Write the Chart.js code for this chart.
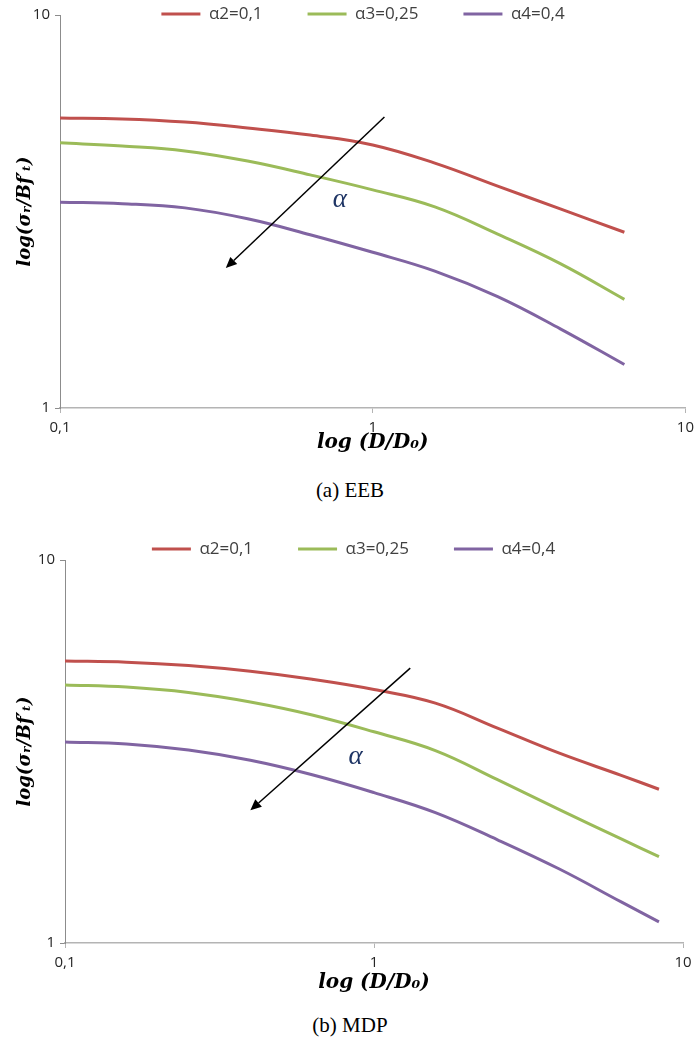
<!DOCTYPE html>
<html><head><meta charset="utf-8">
<script src="https://cdn.jsdelivr.net/npm/chart.js@4.4.1/dist/chart.umd.min.js"></script>
<style>
html,body{margin:0;padding:0;background:#fff;}
body{width:700px;height:1045px;position:relative;overflow:hidden;}
.wrap{position:absolute;left:0;width:700px;}
.cap{position:absolute;left:0;width:700px;text-align:center;font-family:"Liberation Serif","Times New Roman",serif;font-size:21px;line-height:24px;color:#000;}
</style></head><body>
<div class="wrap" style="top:0;height:455px"><canvas id="cA"></canvas></div>
<div class="cap" style="top:478px">(a) EEB</div>
<div class="wrap" style="top:535px;height:460px"><canvas id="cB"></canvas></div>
<div class="cap" style="top:1013px">(b) MDP</div>
<script>
// ---- data ----
const SERIES_LABELS = ['α2=0,1', 'α3=0,25', 'α4=0,4'];
const X_TICKS = [0.1, 1, 10];
const X_TICK_LABELS = ['0,1', '1', '10'];
const Y_TICKS = [1, 10];
const Y_TICK_LABELS = ['1', '10'];

// (a) EEB
const D_A = [0.1, 0.158, 0.251, 0.398, 0.631, 1.0, 1.58, 2.51, 3.98, 6.38];
const RED_A = [5.47, 5.44, 5.34, 5.16, 4.95, 4.67, 4.20, 3.67, 3.21, 2.80];
const GREEN_A = [4.73, 4.64, 4.51, 4.25, 3.92, 3.59, 3.25, 2.77, 2.33, 1.89];
const PURPLE_A = [3.34, 3.31, 3.23, 3.03, 2.76, 2.49, 2.23, 1.92, 1.59, 1.29];

// (b) MDP
const D_B = [0.1, 0.158, 0.251, 0.398, 0.631, 1.0, 1.58, 2.51, 3.98, 6.31, 8.36];
const RED_B = [5.45, 5.41, 5.30, 5.12, 4.88, 4.59, 4.23, 3.64, 3.13, 2.74, 2.52];
const GREEN_B = [4.72, 4.66, 4.51, 4.26, 3.94, 3.56, 3.18, 2.67, 2.23, 1.87, 1.68];
const PURPLE_B = [3.35, 3.31, 3.19, 3.00, 2.75, 2.47, 2.19, 1.86, 1.56, 1.28, 1.135];

// annotation (arrow from -> to, alpha label) in data coordinates
const ARROW_A = [[1.09, 5.50], [0.339, 2.27]];
const ALPHA_A = [0.785, 3.38];
const ARROW_B = [[1.31, 5.22], [0.398, 2.22]];
const ALPHA_B = [0.871, 3.06];

const COLORS = ['#C0504D', '#9BBB59', '#8064A2'];
const X_TITLE = 'log (D/D\u2080)';
const Y_TITLE = 'log(\u03C3\u1D63/Bf\u2032\u209C)';

const LEGEND_FONT = 17;
const LEGEND_GAP = 45;

function build(id, o) {
  const datasets = o.series.map((ys, i) => ({
    label: SERIES_LABELS[i],
    data: o.x.map((x, j) => ({x: x, y: ys[j]})),
    borderColor: COLORS[i],
    backgroundColor: COLORS[i],
    borderWidth: 3,
    pointRadius: 0,
    pointHoverRadius: 0,
    tension: 0.4,
    fill: false
  }));
  const helper = {
    id: 'helper_' + id,
    beforeLayout(chart) {
      const lg = chart.legend;
      if (lg && !lg._patched) {
        const f = lg.fit;
        lg.fit = function () { f.call(this); this.height = o.legendH; };
        lg._patched = true;
      }
    },
    afterLayout(chart) {
      const lg = chart.legend;
      if (lg) {
        lg.left += 2 * o.legendShift;
        lg.top = o.legendY - LEGEND_GAP - LEGEND_FONT / 2;
        lg.bottom = o.legendY + 20;
      }
    },
    afterDatasetsDraw(chart) {
      const ctx = chart.ctx, xs = chart.scales.x, ys = chart.scales.y;
      const x0 = xs.getPixelForValue(o.arrow[0][0]), y0 = ys.getPixelForValue(o.arrow[0][1]);
      const x1 = xs.getPixelForValue(o.arrow[1][0]), y1 = ys.getPixelForValue(o.arrow[1][1]);
      const ang = Math.atan2(y1 - y0, x1 - x0);
      const hl = 11, hw = 5;
      const bx = x1 - hl * Math.cos(ang), by = y1 - hl * Math.sin(ang);
      ctx.save();
      ctx.strokeStyle = '#000'; ctx.fillStyle = '#000'; ctx.lineWidth = 1.5;
      ctx.beginPath(); ctx.moveTo(x0, y0); ctx.lineTo(bx, by); ctx.stroke();
      ctx.beginPath(); ctx.moveTo(x1, y1);
      ctx.lineTo(bx + hw * Math.sin(ang), by - hw * Math.cos(ang));
      ctx.lineTo(bx - hw * Math.sin(ang), by + hw * Math.cos(ang));
      ctx.closePath(); ctx.fill();
      ctx.font = 'italic 27px "Liberation Serif", "DejaVu Serif", serif';
      ctx.fillStyle = '#1f3565';
      ctx.textAlign = 'center'; ctx.textBaseline = 'middle';
      ctx.fillText('\u03B1', xs.getPixelForValue(o.alpha[0]), ys.getPixelForValue(o.alpha[1]));
      ctx.restore();
    }
  };
  return new Chart(document.getElementById(id), {
    type: 'line',
    data: {datasets: datasets},
    plugins: [helper],
    options: {
      responsive: true,
      maintainAspectRatio: false,
      animation: false,
      events: [],
      layout: {padding: {left: 0, right: o.padRight, top: 0, bottom: 0}},
      plugins: {
        tooltip: {enabled: false},
        legend: {
          position: 'top',
          align: 'center',
          labels: {
            boxWidth: 39,
            boxHeight: 3,
            padding: LEGEND_GAP,
            color: '#404040',
            font: {family: '"Open Sans", "DejaVu Sans", sans-serif', size: LEGEND_FONT},
            generateLabels: (chart) => chart.data.datasets.map((ds, i) => ({
              text: ds.label, fillStyle: ds.borderColor, strokeStyle: ds.borderColor,
              lineWidth: 0, hidden: false, datasetIndex: i, fontColor: '#404040'
            }))
          }
        }
      },
      scales: {
        x: {
          type: 'logarithmic',
          min: 0.1, max: 10,
          afterBuildTicks: (s) => { s.ticks = X_TICKS.map(v => ({value: v})); },
          afterFit: (s) => { s.height = o.xAxisH; },
          ticks: {
            autoSkip: false, maxRotation: 0, padding: 6,
            color: '#262626',
            font: {family: '"Open Sans", "DejaVu Sans", sans-serif', size: 15},
            callback: (v) => { const k = X_TICKS.indexOf(v); return k >= 0 ? X_TICK_LABELS[k] : ''; }
          },
          grid: {drawOnChartArea: false, drawTicks: true, tickLength: 5, color: '#b4b4b4', lineWidth: 1},
          border: {display: true, color: '#b4b4b4', width: 1.5},
          title: {
            display: true, text: X_TITLE, color: '#000',
            font: {family: '"DejaVu Serif", serif', size: 20, weight: 'bold', style: 'italic'},
            padding: {top: 0, bottom: 0}
          }
        },
        y: {
          type: 'logarithmic',
          min: 1, max: 10,
          afterBuildTicks: (s) => { s.ticks = Y_TICKS.map(v => ({value: v})); },
          afterFit: (s) => { s.width = o.yAxisW; },
          ticks: {
            autoSkip: false, padding: 5,
            color: '#262626',
            font: {family: '"Open Sans", "DejaVu Sans", sans-serif', size: 15},
            callback: (v) => { const k = Y_TICKS.indexOf(v); return k >= 0 ? Y_TICK_LABELS[k] : ''; }
          },
          grid: {drawOnChartArea: false, drawTicks: true, tickLength: 5, color: '#8c8c8c', lineWidth: 1},
          border: {display: true, color: '#8c8c8c', width: 1},
          title: {
            display: true, text: Y_TITLE, color: '#000',
            font: {family: '"DejaVu Serif", serif', size: 18, weight: 'bold', style: 'italic'},
            padding: {top: 15, bottom: 0}
          }
        }
      }
    }
  });
}

build('cA', {x: D_A, series: [RED_A, GREEN_A, PURPLE_A], arrow: ARROW_A, alpha: ALPHA_A,
  legendH: 15, legendY: 14, legendShift: 20, padRight: 14, xAxisH: 47, yAxisW: 60});
build('cB', {x: D_B, series: [RED_B, GREEN_B, PURPLE_B], arrow: ARROW_B, alpha: ALPHA_B,
  legendH: 25, legendY: 14, legendShift: 12, padRight: 17, xAxisH: 52, yAxisW: 65});
</script>
</body></html>
